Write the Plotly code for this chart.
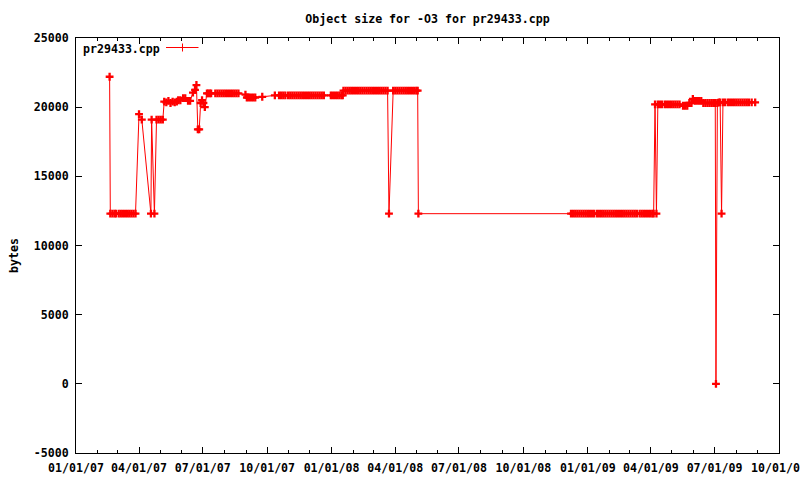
import plotly.graph_objects as go

# ---- data ----
dates = [
    "2007-02-18", "2007-02-19", "2007-02-22", "2007-02-25", "2007-02-27",
    "2007-03-03", "2007-03-06", "2007-03-09", "2007-03-12", "2007-03-15",
    "2007-03-18", "2007-03-21", "2007-03-24", "2007-03-27",
    "2007-04-01", "2007-04-05", "2007-04-18", "2007-04-19", "2007-04-23",
    "2007-04-26", "2007-04-29", "2007-05-02", "2007-05-05",
    "2007-05-07", "2007-05-10", "2007-05-13", "2007-05-16", "2007-05-19",
    "2007-05-22", "2007-05-25", "2007-05-27", "2007-05-30", "2007-06-03",
    "2007-06-06", "2007-06-10", "2007-06-13", "2007-06-17", "2007-06-20",
    "2007-06-22", "2007-06-24", "2007-06-26", "2007-06-28", "2007-06-30",
    "2007-07-02", "2007-07-04",
    "2007-07-07", "2007-07-09", "2007-07-11", "2007-07-13", "2007-07-19",
    "2007-07-22", "2007-07-25", "2007-07-28", "2007-07-31", "2007-08-03",
    "2007-08-06", "2007-08-09", "2007-08-12", "2007-08-15", "2007-08-18",
    "2007-08-21",
    "2007-08-31", "2007-09-02", "2007-09-05", "2007-09-08", "2007-09-11",
    "2007-09-14", "2007-09-24", "2007-10-12",
    "2007-10-18", "2007-10-21", "2007-10-24", "2007-10-27", "2007-10-31",
    "2007-11-03", "2007-11-06", "2007-11-09", "2007-11-12", "2007-11-15",
    "2007-11-18", "2007-11-21", "2007-11-24", "2007-11-27", "2007-11-30",
    "2007-12-03", "2007-12-06", "2007-12-09", "2007-12-12", "2007-12-15",
    "2007-12-18", "2007-12-21",
    "2007-12-31", "2008-01-03", "2008-01-06", "2008-01-09", "2008-01-12",
    "2008-01-15", "2008-01-17",
    "2008-01-18", "2008-01-21", "2008-01-24", "2008-01-27", "2008-01-30",
    "2008-02-02", "2008-02-05", "2008-02-08", "2008-02-11", "2008-02-14",
    "2008-02-17", "2008-02-20", "2008-02-23", "2008-02-26", "2008-02-29",
    "2008-03-03", "2008-03-06", "2008-03-09", "2008-03-12", "2008-03-15",
    "2008-03-18", "2008-03-21",
    "2008-03-23",
    "2008-03-29", "2008-04-01", "2008-04-04", "2008-04-07", "2008-04-10",
    "2008-04-13", "2008-04-16", "2008-04-19", "2008-04-22", "2008-04-25",
    "2008-04-28", "2008-05-01", "2008-05-03",
    "2008-05-04",
    "2008-12-08", "2008-12-11", "2008-12-14", "2008-12-17", "2008-12-20",
    "2008-12-23", "2008-12-26", "2008-12-29", "2009-01-01", "2009-01-04",
    "2009-01-07", "2009-01-10", "2009-01-14", "2009-01-17", "2009-01-20",
    "2009-01-23", "2009-01-26", "2009-01-29", "2009-02-01", "2009-02-04",
    "2009-02-07", "2009-02-10", "2009-02-13", "2009-02-16", "2009-02-19",
    "2009-02-22", "2009-02-25", "2009-02-28", "2009-03-03", "2009-03-06",
    "2009-03-09", "2009-03-12", "2009-03-16", "2009-03-19", "2009-03-22",
    "2009-03-25", "2009-03-28", "2009-03-31", "2009-04-03", "2009-04-05",
    "2009-04-07", "2009-04-09", "2009-04-11",
    "2009-04-14", "2009-04-17", "2009-04-21", "2009-04-24", "2009-04-27",
    "2009-04-30", "2009-05-03", "2009-05-06", "2009-05-09", "2009-05-12",
    "2009-05-17", "2009-05-20", "2009-05-23", "2009-05-26", "2009-05-29",
    "2009-05-31", "2009-06-03", "2009-06-06", "2009-06-09", "2009-06-12",
    "2009-06-15", "2009-06-18", "2009-06-21", "2009-06-24", "2009-06-27",
    "2009-06-30", "2009-07-02", "2009-07-03", "2009-07-05",
    "2009-07-07", "2009-07-09", "2009-07-11", "2009-07-13", "2009-07-16",
    "2009-07-20", "2009-07-23", "2009-07-26", "2009-07-29", "2009-08-01",
    "2009-08-04", "2009-08-07", "2009-08-10", "2009-08-13", "2009-08-16",
    "2009-08-19", "2009-08-23", "2009-08-28",
]

sizes = [
    22200, 12300, 12300, 12300, 12300,
    12300, 12300, 12300, 12300, 12300,
    12300, 12300, 12300, 12300,
    19500, 19100, 12300, 19100, 12300,
    19100, 19100, 19100, 19100,
    20400, 20350, 20450, 20300, 20400,
    20350, 20400, 20500, 20500, 20650,
    20650, 20450, 20450, 21050, 21250,
    21600, 18400, 18400, 20300, 20500,
    20300, 20000,
    21000, 21000, 21000, 21000, 21000,
    21000, 21000, 21000, 21000, 21000,
    21000, 21000, 21000, 21000, 21000,
    21000,
    20900, 20700, 20700, 20700, 20700,
    20700, 20750, 20850,
    20850, 20850, 20850, 20850, 20850,
    20850, 20850, 20850, 20850, 20850,
    20850, 20850, 20850, 20850, 20850,
    20850, 20850, 20850, 20850, 20850,
    20850, 20850,
    20850, 20850, 20850, 20850, 20850,
    20850, 20850,
    21200, 21200, 21200, 21200, 21200,
    21200, 21200, 21200, 21200, 21200,
    21200, 21200, 21200, 21200, 21200,
    21200, 21200, 21200, 21200, 21200,
    21200, 21200,
    12300,
    21200, 21200, 21200, 21200, 21200,
    21200, 21200, 21200, 21200, 21200,
    21200, 21200, 21200,
    12300,
    12300, 12300, 12300, 12300, 12300,
    12300, 12300, 12300, 12300, 12300,
    12300, 12300, 12300, 12300, 12300,
    12300, 12300, 12300, 12300, 12300,
    12300, 12300, 12300, 12300, 12300,
    12300, 12300, 12300, 12300, 12300,
    12300, 12300, 12300, 12300, 12300,
    12300, 12300, 12300, 12300, 12300,
    20200, 12300, 20200,
    20200, 20200, 20200, 20200, 20200,
    20200, 20200, 20200, 20200, 20200,
    20100, 20100, 20100, 20300, 20300,
    20600, 20450, 20450, 20450, 20450,
    20300, 20300, 20300, 20300, 20300,
    20300, 20300, 0, 20300,
    20350, 20350, 12300, 20350, 20350,
    20350, 20350, 20350, 20350, 20350,
    20350, 20350, 20350, 20350, 20350,
    20350, 20350, 20350,
]

y_ticks = [-5000, 0, 5000, 10000, 15000, 20000, 25000]
y_tick_labels = ["-5000", "0", "5000", "10000", "15000", "20000", "25000"]
x_ticks = ["2007-01-01", "2007-04-01", "2007-07-01", "2007-10-01", "2008-01-01",
           "2008-04-01", "2008-07-01", "2008-10-01", "2009-01-01", "2009-04-01",
           "2009-07-01", "2009-10-01"]
x_tick_labels = ["01/01/07", "04/01/07", "07/01/07", "10/01/07", "01/01/08",
                 "04/01/08", "07/01/08", "10/01/08", "01/01/09", "04/01/09",
                 "07/01/09", "10/01/09"]
series_name = "pr29433.cpp"
title_text = "Object size for -O3 for pr29433.cpp"

RED = "#ff0000"
FONT = "DejaVu Sans Mono"

# plot area in pixels
L, R, T, B = 76, 779, 38, 453
W, H = 800, 480
PW, PH = R - L, B - T


def px(x):
    return (x - L) / PW


def py(y):
    return (B - y) / PH


fig = go.Figure()
fig.add_trace(go.Scatter(
    x=dates, y=sizes, mode="lines+markers", name=series_name,
    line=dict(color=RED, width=1),
    marker=dict(symbol="cross-thin", size=5.6, color=RED,
                line=dict(color=RED, width=2.3)),
    showlegend=False,
))

axis_common = dict(
    showline=True, linecolor="black", linewidth=1, mirror="allticks",
    ticks="inside", ticklen=6, tickcolor="black", tickwidth=1,
    showgrid=False, zeroline=False,
    tickfont=dict(family=FONT, size=11.6, color="black", weight="bold"),
)

fig.update_xaxes(
    type="date", range=["2007-01-01", "2009-10-01 01:00"],
    tickmode="array", tickvals=x_ticks, ticktext=x_tick_labels,
    minor=dict(ticks="inside", ticklen=3, dtick="M1", tick0="2007-01-01",
               tickcolor="black", showgrid=False),
    ticklabelstandoff=4, ticklabeloverflow="allow",
    **axis_common,
)
fig.update_yaxes(
    range=[-5000, 25000], tickmode="array", tickvals=y_ticks,
    ticktext=y_tick_labels, ticklabelstandoff=4,
    **axis_common,
)

fig.update_layout(
    width=W, height=H,
    margin=dict(l=L, r=W - R, t=T, b=H - B, autoexpand=False),
    paper_bgcolor="white", plot_bgcolor="white",
    font=dict(family=FONT, size=11.6, color="black", weight="bold"),
    title=dict(text=title_text, x=px(427.5), xref="paper", xanchor="center",
               y=1 - 18.5 / H, yref="container", yanchor="middle",
               font=dict(family=FONT, size=11.6, color="black", weight="bold")),
    annotations=[
        dict(text="bytes", textangle=-90, xref="paper", yref="paper",
             x=px(14), y=py(255), xanchor="center", yanchor="middle",
             showarrow=False,
             font=dict(family=FONT, size=11.6, color="black", weight="bold")),
        dict(text=series_name, xref="paper", yref="paper",
             x=px(80.5), y=py(49), xanchor="left", yanchor="middle",
             showarrow=False,
             font=dict(family=FONT, size=11.6, color="black", weight="bold")),
    ],
    shapes=[
        dict(type="line", xref="paper", yref="paper",
             x0=px(166), x1=px(198.5), y0=py(47.5), y1=py(47.5),
             line=dict(color=RED, width=1)),
        dict(type="line", xref="paper", yref="paper",
             x0=px(182.5), x1=px(182.5), y0=py(43.5), y1=py(51.5),
             line=dict(color=RED, width=1)),
    ],
)

fig.write_html("out.html",
               config={"displayModeBar": False},
               post_script="document.body.style.margin='0px';"
                           "document.body.style.padding='0px';")
